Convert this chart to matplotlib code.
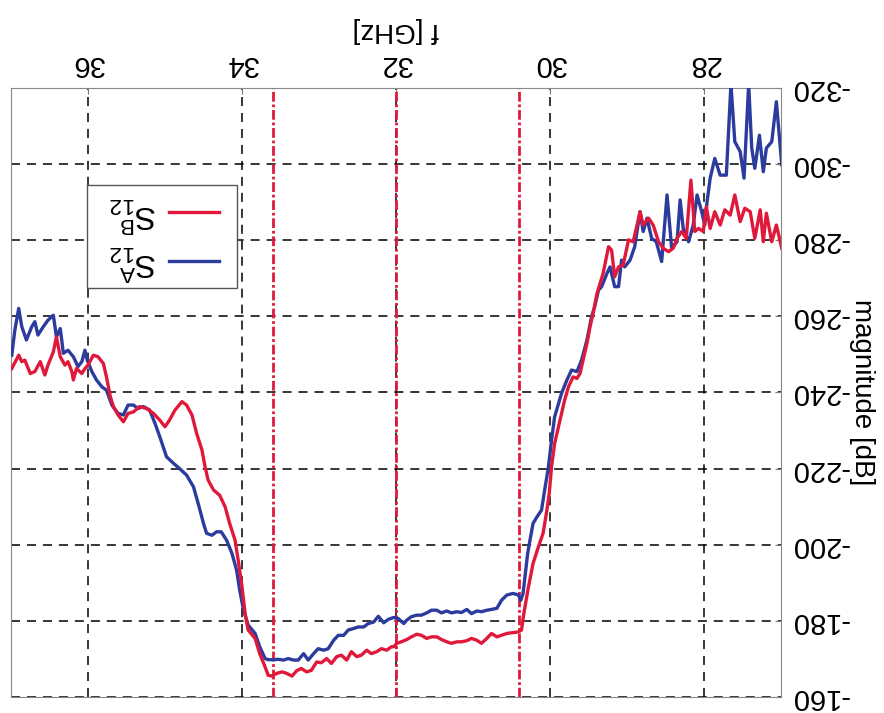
import matplotlib
matplotlib.use('Agg')
import matplotlib.pyplot as plt
from matplotlib.patches import Rectangle

plt.rcParams['font.family'] = ['Liberation Sans', 'DejaVu Sans']
plt.rcParams['axes.unicode_minus'] = False
plt.rcParams['mathtext.default'] = 'regular'
plt.rcParams['lines.scale_dashes'] = False

# S^A_12 (blue) - frequency [GHz], magnitude [dB]
f_a = [26.99, 27.06, 27.12, 27.19, 27.23, 27.28, 27.34, 27.38, 27.42, 27.48,
       27.53, 27.60, 27.65, 27.71, 27.79, 27.86, 27.92, 27.96, 27.99, 28.03,
       28.09, 28.14, 28.20, 28.27, 28.31, 28.35, 28.42, 28.48, 28.55, 28.62,
       28.68, 28.74, 28.79, 28.83, 28.90, 28.96, 29.03, 29.07, 29.11, 29.16,
       29.22, 29.26, 29.33, 29.37, 29.42, 29.46, 29.52, 29.59, 29.65, 29.72,
       29.78, 29.85, 29.94, 29.98, 30.02, 30.07, 30.11, 30.17, 30.22, 30.26,
       30.29, 30.32, 30.35, 30.38, 30.41, 30.48, 30.56, 30.63, 30.69, 30.76,
       30.82, 30.89, 30.95, 31.02, 31.08, 31.15, 31.21, 31.28, 31.34, 31.41,
       31.47, 31.54, 31.60, 31.67, 31.73, 31.80, 31.86, 31.90, 31.97, 32.03,
       32.10, 32.16, 32.23, 32.29, 32.36, 32.42, 32.49, 32.55, 32.62, 32.68,
       32.75, 32.81, 32.88, 32.94, 33.01, 33.07, 33.14, 33.20, 33.27, 33.33,
       33.40, 33.46, 33.53, 33.59, 33.66, 33.70, 33.77, 33.83, 33.92, 33.98,
       34.03, 34.07, 34.13, 34.20, 34.27, 34.33, 34.39, 34.46, 34.50, 34.57,
       34.63, 34.72, 34.81, 34.89, 34.98, 35.07, 35.13, 35.20, 35.28, 35.35,
       35.41, 35.48, 35.54, 35.61, 35.69, 35.76, 35.82, 35.89, 35.95, 36.01,
       36.04, 36.08, 36.13, 36.19, 36.26, 36.32, 36.36, 36.41, 36.45, 36.52,
       36.58, 36.65, 36.69, 36.73, 36.80, 36.86, 36.90, 36.95, 36.99]
mag_a = [-299.8, -316.4, -305.9, -304.2, -298.0, -307.6, -298.9, -304.2, -321.0, -296.3,
         -303.3, -305.9, -321.0, -297.1, -297.1, -301.5, -296.3, -290.1, -284.0, -287.5,
         -291.9, -284.0, -279.6, -283.1, -290.6, -279.6, -277.9, -291.9, -274.4, -279.6,
         -280.5, -285.8, -282.3, -287.5, -278.3, -274.8, -273.0, -274.8, -267.8, -267.8,
         -273.0, -271.3, -267.8, -266.9, -262.5, -259.9, -253.8, -248.5, -245.5, -245.9,
         -243.3, -239.8, -233.6, -227.5, -220.5, -214.3, -209.1, -207.3, -205.6, -201.2,
         -197.7, -192.4, -187.2, -185.4, -186.8, -187.2, -186.8, -185.4, -183.3, -183.0,
         -182.8, -182.4, -182.6, -181.9, -183.0, -182.2, -182.4, -182.1, -182.6, -182.1,
         -182.8, -182.8, -182.1, -181.5, -181.5, -181.1, -180.2, -179.3, -180.6, -180.9,
         -180.4, -179.5, -181.2, -179.7, -179.3, -178.4, -178.4, -178.0, -177.6, -176.2,
         -176.2, -174.9, -172.7, -172.3, -172.7, -171.4, -169.7, -171.4, -169.7, -169.7,
         -170.1, -169.7, -169.9, -169.8, -169.8, -170.1, -173.2, -176.7, -178.9, -182.8,
         -188.1, -193.3, -197.7, -201.2, -203.4, -203.4, -202.5, -203.0, -205.6, -210.9,
         -215.2, -218.3, -220.0, -221.4, -223.1, -228.5, -231.9, -235.4, -236.3, -235.8,
         -236.7, -236.7, -234.1, -234.5, -236.7, -240.6, -241.5, -243.3, -245.5, -248.5,
         -251.1, -248.1, -246.8, -249.4, -251.1, -250.3, -256.8, -254.6, -260.3, -259.0,
         -257.3, -255.1, -258.6, -257.3, -253.8, -257.3, -262.1, -256.4, -249.8]

# S^B_12 (red)
f_b = [26.99, 27.06, 27.12, 27.19, 27.23, 27.27, 27.34, 27.40, 27.47, 27.53,
       27.60, 27.66, 27.73, 27.79, 27.86, 27.92, 27.97, 28.01, 28.07, 28.12,
       28.17, 28.23, 28.29, 28.35, 28.40, 28.46, 28.53, 28.59, 28.66, 28.72,
       28.79, 28.83, 28.92, 28.98, 29.05, 29.11, 29.16, 29.20, 29.24, 29.31,
       29.39, 29.44, 29.48, 29.52, 29.57, 29.61, 29.65, 29.70, 29.76, 29.81,
       29.87, 29.94, 29.98, 30.01, 30.04, 30.09, 30.15, 30.22, 30.28, 30.34,
       30.37, 30.41, 30.48, 30.56, 30.63, 30.69, 30.76, 30.82, 30.89, 30.95,
       31.02, 31.08, 31.15, 31.21, 31.28, 31.34, 31.41, 31.47, 31.54, 31.60,
       31.67, 31.73, 31.80, 31.86, 31.93, 31.99, 32.03, 32.06, 32.12, 32.19,
       32.25, 32.32, 32.38, 32.45, 32.51, 32.58, 32.64, 32.71, 32.77, 32.84,
       32.90, 32.97, 33.03, 33.10, 33.16, 33.23, 33.29, 33.35, 33.42, 33.48,
       33.55, 33.61, 33.66, 33.70, 33.77, 33.83, 33.92, 33.96, 34.00, 34.05,
       34.09, 34.16, 34.22, 34.29, 34.37, 34.44, 34.48, 34.52, 34.59, 34.65,
       34.72, 34.78, 34.87, 34.94, 35.00, 35.07, 35.15, 35.24, 35.33, 35.41,
       35.48, 35.54, 35.61, 35.67, 35.71, 35.76, 35.80, 35.87, 35.93, 36.00,
       36.04, 36.08, 36.15, 36.19, 36.21, 36.26, 36.30, 36.36, 36.41, 36.45,
       36.52, 36.56, 36.62, 36.69, 36.75, 36.82, 36.86, 36.90, 36.99]
mag_b = [-277.9, -284.0, -279.6, -287.1, -279.6, -288.0, -280.5, -287.5, -288.4, -284.9,
         -291.9, -286.6, -288.0, -284.0, -287.5, -283.1, -288.8, -282.3, -283.1, -282.3,
         -295.8, -280.5, -282.3, -280.5, -277.9, -277.0, -277.9, -279.6, -284.0, -285.8,
         -284.0, -287.5, -279.6, -280.1, -273.5, -273.0, -270.4, -277.4, -278.3, -271.3,
         -266.0, -260.8, -257.3, -252.9, -248.5, -245.0, -243.7, -244.1, -241.5, -238.0,
         -232.7, -226.6, -220.5, -213.5, -209.1, -203.0, -199.5, -195.1, -188.9, -181.9,
         -177.6, -177.1, -176.9, -176.7, -176.2, -175.8, -176.7, -175.4, -174.1, -174.9,
         -175.4, -174.8, -174.5, -174.5, -174.1, -174.5, -175.1, -175.8, -175.8, -175.4,
         -176.2, -176.5, -175.8, -175.1, -174.5, -174.1, -173.2, -173.2, -172.3, -172.7,
         -171.9, -171.4, -172.3, -171.0, -170.6, -171.9, -169.7, -171.0, -170.6, -168.8,
         -170.1, -169.0, -169.2, -167.0, -166.6, -167.5, -166.9, -165.5, -166.2, -166.6,
         -166.2, -165.5, -165.7, -167.9, -171.4, -175.4, -177.6, -182.0, -189.0, -196.0,
         -201.2, -205.6, -210.0, -213.0, -214.4, -217.0, -220.5, -224.9, -229.3, -234.1,
         -236.7, -237.6, -235.4, -232.8, -231.0, -232.8, -234.5, -235.8, -236.3, -234.9,
         -234.5, -232.3, -234.1, -236.3, -238.9, -244.1, -247.6, -249.4, -249.8, -247.2,
         -246.3, -245.0, -246.3, -243.3, -245.5, -248.1, -247.2, -249.4, -254.6, -250.7,
         -247.2, -244.6, -248.1, -245.5, -245.0, -248.5, -248.1, -249.8, -246.3]

band_edges = [30.4, 32.0, 33.6]
x_ticks = [28, 30, 32, 34, 36]
y_ticks = [-320, -300, -280, -260, -240, -220, -200, -180, -160]

blue = '#2c3b9e'
red = '#e0193a'

fig = plt.figure(figsize=(8.84, 7.13), dpi=100)
ax = fig.add_axes([11 / 884, 16 / 713, 770 / 884, 609 / 713])

# the scan is upside down: both axes run backwards and every text is turned 180 deg
ax.set_xlim(37, 27)
ax.set_ylim(-160, -320)

ax.grid(True, color='black', ls=(0, (6.5, 5)), lw=1.1, zorder=1)
for fe in band_edges:
    ax.axvline(fe, color=red, lw=2.0, ls=(0, (7, 2, 2, 2)), zorder=2)
ax.plot(f_a, mag_a, color=blue, lw=2.4, zorder=3)
ax.plot(f_b, mag_b, color=red, lw=2.4, zorder=4)

ax.xaxis.tick_top()
ax.yaxis.tick_right()
ax.set_xticks(x_ticks)
ax.set_yticks(y_ticks)
ax.tick_params(direction='in', length=4, color='#777777', labelsize=21, pad=7)
plt.setp(ax.get_xticklabels(), rotation=180, va='bottom', ha='center')
plt.setp(ax.get_yticklabels(), rotation=180, ha='left', va='center')
for sp in ax.spines.values():
    sp.set_color('#888888')
    sp.set_linewidth(0.8)

fig.text(396 / 884, 1 - 30 / 713, 'f [GHz]', rotation=180, ha='center', va='center', fontsize=20)
fig.text(862 / 884, 1 - 392 / 713, 'magnitude [dB]', rotation=270, ha='center', va='center', fontsize=20)

# legend, drawn by hand so it can be turned as well
ax.add_patch(Rectangle((0.0987, 0.672), 0.195, 0.169, transform=ax.transAxes,
                       facecolor='white', edgecolor='#555555', lw=1.0, zorder=6))
ax.plot([0.205, 0.270], [0.716, 0.716], color=blue, lw=2.4, transform=ax.transAxes, zorder=7)
ax.plot([0.205, 0.270], [0.796, 0.796], color=red, lw=2.4, transform=ax.transAxes, zorder=7)
ax.text(0.19, 0.712, r'$S^{A}_{12}$', rotation=180, ha='right', va='center', fontsize=23,
        transform=ax.transAxes, zorder=8)
ax.text(0.19, 0.792, r'$S^{B}_{12}$', rotation=180, ha='right', va='center', fontsize=23,
        transform=ax.transAxes, zorder=8)

fig.savefig('out.png', dpi=100)
